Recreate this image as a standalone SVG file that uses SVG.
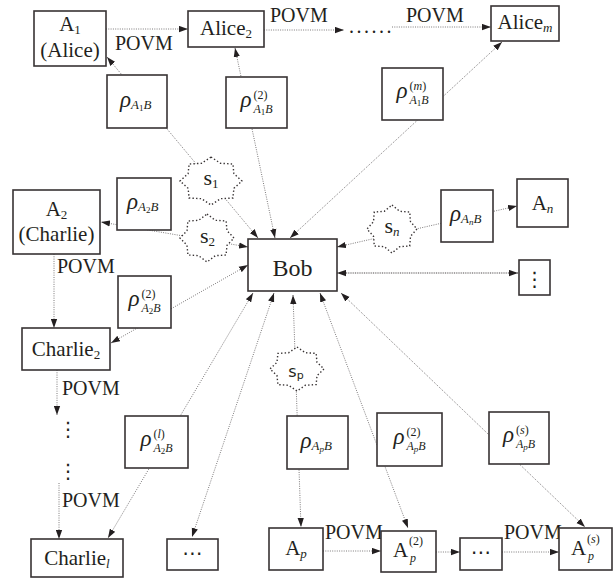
<svg xmlns="http://www.w3.org/2000/svg" width="613" height="578" viewBox="0 0 613 578">
<style>
.box{fill:#fff;stroke:#383334;stroke-width:1.6}
.star{fill:#fff;stroke:#383334;stroke-width:1.4;stroke-dasharray:1.4 2.2}
.ln{fill:none;stroke:#6e6b6c;stroke-width:0.9;stroke-dasharray:1 1.3;marker-end:url(#ah)}
.two{marker-start:url(#ah)}
.thick{stroke:#8a8788;stroke-width:1.5;stroke-dasharray:1 0.8}
text{font-family:"Liberation Serif","Times New Roman",serif;fill:#231f20}
.lb{font-size:21px}
.pv{font-size:20px}
.i{font-style:italic}
.sm{font-size:13px}
.ss{font-size:12px}
.xs{font-size:9px}
.rho{font-size:23px;font-style:italic}
.dots{font-family:"DejaVu Sans",sans-serif;font-size:20px}
.sans{font-family:"DejaVu Sans","Noto Sans",sans-serif}
</style>
<defs>
<marker id="ah" viewBox="0 0 10 7" refX="10" refY="3.5" markerWidth="9" markerHeight="7" markerUnits="userSpaceOnUse" orient="auto-start-reverse">
<path d="M0,0 L10,3.5 L0,7 z" fill="#231f20"/>
</marker>
</defs>

<!-- links: every party shares a state with Bob; POVM chains run between successive parties -->
<g id="connectors">
<path class="ln two" d="M258,238 L107,57"/>
<path class="ln two" d="M275,238 L235,48"/>
<path class="ln two" d="M290,238 L502,42"/>
<path class="ln two" d="M248,247 L101,222"/>
<path class="ln two" d="M248,265 L111,343"/>
<path class="ln two" d="M253,293 L108,538"/>
<path class="ln two" d="M274,293 L192,537"/>
<path class="ln two" d="M293,295 L301,527"/>
<path class="ln two" d="M320,293 L408,528"/>
<path class="ln two" d="M341,293 L585,527"/>
<path class="ln two" d="M337,247 L517,206"/>
<path class="ln two thick" d="M337,273 L518,273"/>
<path class="ln" d="M106,29 L188,29"/>
<path class="ln" d="M264,30 L344,30"/>
<path class="ln" d="M392,27 L491,27"/>
<path class="ln" d="M54,254 L54,328"/>
<path class="ln" d="M57,370 L57,415"/>
<path class="ln" d="M59,483 L59,539"/>
<path class="ln" d="M323,551 L381,551"/>
<path class="ln" d="M436,552 L460,552"/>
<path class="ln" d="M502,552 L559,552"/>
<text class="pv" x="115" y="50">POVM</text>
<text class="pv" x="270" y="22">POVM</text>
<text class="pv" x="406" y="22">POVM</text>
<text class="pv" x="57" y="273">POVM</text>
<text class="pv" x="62" y="395">POVM</text>
<text class="pv" x="62" y="507">POVM</text>
<text class="pv" x="325" y="539">POVM</text>
<text class="pv" x="504" y="539">POVM</text>
<text class="pv" x="349" y="33" letter-spacing="2.5">......</text>
<text class="dots" x="68" y="436" text-anchor="middle">⋮</text>
<text class="dots" x="68" y="478" text-anchor="middle">⋮</text>
</g>

<!-- parties -->
<g id="A1">
<rect class="box" x="34" y="11" width="72" height="55"/>
<text class="lb" x="70" y="31" text-anchor="middle">A<tspan class="sm" dy="3">1</tspan></text>
<text class="lb" x="70" y="57" text-anchor="middle">(Alice)</text>
</g>
<g id="Alice2">
<rect class="box" x="188" y="11" width="76" height="36"/>
<text class="lb" x="226" y="35" text-anchor="middle">Alice<tspan class="sm" dy="3">2</tspan></text>
</g>
<g id="AliceM">
<rect class="box" x="491" y="6" width="68" height="35"/>
<text class="lb" x="525" y="29" text-anchor="middle">Alice<tspan class="sm i" dy="3">m</tspan></text>
</g>
<g id="A2">
<rect class="box" x="13" y="190" width="87" height="64"/>
<text class="lb" x="56.5" y="215.5" text-anchor="middle">A<tspan class="sm" dy="3">2</tspan></text>
<text class="lb" x="56.5" y="241" text-anchor="middle">(Charlie)</text>
</g>
<g id="Charlie2">
<rect class="box" x="22" y="328" width="88" height="42"/>
<text class="lb" x="66" y="356" text-anchor="middle">Charlie<tspan class="sm" dy="3">2</tspan></text>
</g>
<g id="CharlieL">
<rect class="box" x="31" y="539" width="92" height="38"/>
<text class="lb" x="77" y="565" text-anchor="middle">Charlie<tspan class="sm i" dy="3">l</tspan></text>
</g>
<g id="Bob">
<rect class="box" x="248" y="239" width="89" height="52"/>
<text x="292.5" y="276" font-size="24" text-anchor="middle">Bob</text>
</g>
<g id="An">
<rect class="box" x="517" y="179" width="51" height="48"/>
<text class="lb" x="542.5" y="210" text-anchor="middle">A<tspan class="sm i" dy="3">n</tspan></text>
</g>
<g id="moreRight">
<rect class="box" x="519" y="260" width="31" height="35"/>
<text class="dots" x="534.5" y="286" text-anchor="middle">⋮</text>
</g>
<g id="moreBottom">
<rect class="box" x="167" y="539" width="51" height="31"/>
<text class="dots" x="192.5" y="560" text-anchor="middle">⋯</text>
</g>
<g id="Ap">
<rect class="box" x="269" y="528" width="54" height="42"/>
<text class="lb" x="296" y="554.5" text-anchor="middle">A<tspan class="sm i" dy="3">p</tspan></text>
</g>
<g id="Ap2">
<rect class="box" x="381" y="531" width="55" height="41"/>
<text class="lb" x="393" y="557">A</text>
<text class="ss" x="409" y="545">(2)</text>
<text class="ss i" x="410" y="562">p</text>
</g>
<g id="moreAp">
<rect class="box" x="460" y="538" width="42" height="32"/>
<text class="dots" x="481" y="559" text-anchor="middle">⋯</text>
</g>
<g id="Aps">
<rect class="box" x="559" y="528" width="53" height="42"/>
<text class="lb" x="571" y="554.5">A</text>
<text class="ss" x="587" y="542.5">(<tspan class="i">s</tspan>)</text>
<text class="ss i" x="588" y="559.5">p</text>
</g>

<!-- entanglement sources -->
<g id="s1">
<path class="star" d="M211,157 L220.5,163.3 L232.9,164 L233.9,173.7 L242,181 L233.9,188.3 L232.9,198 L220.5,198.7 L211,205 L201.5,198.7 L189.1,198 L188.1,188.3 L180,181 L188.1,173.7 L189.1,164 L201.5,163.3 Z"/>
<text x="211" y="185" font-size="22" text-anchor="middle">s<tspan class="sm" dy="3">1</tspan></text>
</g>
<g id="s2">
<path class="star" d="M207,214 L215.3,220.3 L226.1,221 L227,230.7 L234,238 L227,245.3 L226.1,255 L215.3,255.7 L207,262 L198.7,255.7 L187.9,255 L187,245.3 L180,238 L187,230.7 L187.9,221 L198.7,220.3 Z"/>
<text x="207.5" y="243" font-size="22" text-anchor="middle">s<tspan class="sm" dy="3">2</tspan></text>
</g>
<g id="sn">
<path class="star" d="M392,205 L399.7,211.3 L409.7,212 L410.5,221.7 L417,229 L410.5,236.3 L409.7,246 L399.7,246.7 L392,253 L384.3,246.7 L374.3,246 L373.5,236.3 L367,229 L373.5,221.7 L374.3,212 L384.3,211.3 Z"/>
<text x="392" y="233" font-size="22" text-anchor="middle">s<tspan class="sm i" dy="3">n</tspan></text>
</g>
<g id="sp">
<path class="star" d="M297,347 L305.3,352.7 L316.1,353.4 L317,362.3 L324,369 L317,375.7 L316.1,384.6 L305.3,385.3 L297,391 L288.7,385.3 L277.9,384.6 L277,375.7 L270,369 L277,362.3 L277.9,353.4 L288.7,352.7 Z"/>
<text class="sans" x="296" y="377" font-size="16" text-anchor="middle">s<tspan font-size="11" dy="2">p</tspan></text>
</g>

<!-- shared states -->
<g id="rhoA1B">
<rect class="box" x="107" y="75" width="60" height="53"/>
<text x="120" y="106.5"><tspan class="rho">ρ</tspan><tspan class="sm i" dy="2">A</tspan><tspan class="xs" dy="2">1</tspan><tspan class="sm i" dy="-2">B</tspan></text>
</g>
<g id="rhoA1B2">
<rect class="box" x="226" y="77" width="61" height="51"/>
<text class="rho" x="240.5" y="106.5">ρ</text>
<text class="ss" x="253.5" y="98.5">(2)</text>
<text x="253.5" y="112.5"><tspan class="ss i">A</tspan><tspan class="xs" dy="2">1</tspan><tspan class="ss i" dy="-2">B</tspan></text>
</g>
<g id="rhoA1Bm">
<rect class="box" x="382" y="68" width="61" height="52"/>
<text class="rho" x="396.5" y="98">ρ</text>
<text class="ss" x="409.5" y="90">(<tspan class="i">m</tspan>)</text>
<text x="409.5" y="104"><tspan class="ss i">A</tspan><tspan class="xs" dy="2">1</tspan><tspan class="ss i" dy="-2">B</tspan></text>
</g>
<g id="rhoA2B">
<rect class="box" x="117" y="178" width="54" height="52"/>
<text x="127" y="209"><tspan class="rho">ρ</tspan><tspan class="sm i" dy="2">A</tspan><tspan class="xs" dy="2">2</tspan><tspan class="sm i" dy="-2">B</tspan></text>
</g>
<g id="rhoA2B2">
<rect class="box" x="118" y="276" width="53" height="52"/>
<text class="rho" x="128.5" y="306">ρ</text>
<text class="ss" x="141.5" y="298">(2)</text>
<text x="141.5" y="312"><tspan class="ss i">A</tspan><tspan class="xs" dy="2">2</tspan><tspan class="ss i" dy="-2">B</tspan></text>
</g>
<g id="rhoAnB">
<rect class="box" x="441" y="190" width="52" height="52"/>
<text x="450" y="221"><tspan class="rho">ρ</tspan><tspan class="sm i" dy="2">A</tspan><tspan class="xs i" dy="2">n</tspan><tspan class="sm i" dy="-2">B</tspan></text>
</g>
<g id="rhoA2Bl">
<rect class="box" x="125" y="416" width="63" height="52"/>
<text class="rho" x="140.5" y="446">ρ</text>
<text class="ss" x="153.5" y="438">(<tspan class="i">l</tspan>)</text>
<text x="153.5" y="452"><tspan class="ss i">A</tspan><tspan class="xs" dy="2">2</tspan><tspan class="ss i" dy="-2">B</tspan></text>
</g>
<g id="rhoApB">
<rect class="box" x="287" y="416" width="61" height="53"/>
<text x="300.5" y="447.5"><tspan class="rho">ρ</tspan><tspan class="sm i" dy="2">A</tspan><tspan class="xs i" dy="2">p</tspan><tspan class="sm i" dy="-2">B</tspan></text>
</g>
<g id="rhoApB2">
<rect class="box" x="377" y="413" width="65" height="53"/>
<text class="rho" x="393.5" y="443.5">ρ</text>
<text class="ss" x="406.5" y="435.5">(2)</text>
<text x="406.5" y="449.5"><tspan class="ss i">A</tspan><tspan class="xs i" dy="2">p</tspan><tspan class="ss i" dy="-2">B</tspan></text>
</g>
<g id="rhoApBs">
<rect class="box" x="489" y="412" width="60" height="52"/>
<text class="rho" x="503" y="442">ρ</text>
<text class="ss" x="516" y="434">(<tspan class="i">s</tspan>)</text>
<text x="516" y="448"><tspan class="ss i">A</tspan><tspan class="xs i" dy="2">p</tspan><tspan class="ss i" dy="-2">B</tspan></text>
</g>
</svg>
